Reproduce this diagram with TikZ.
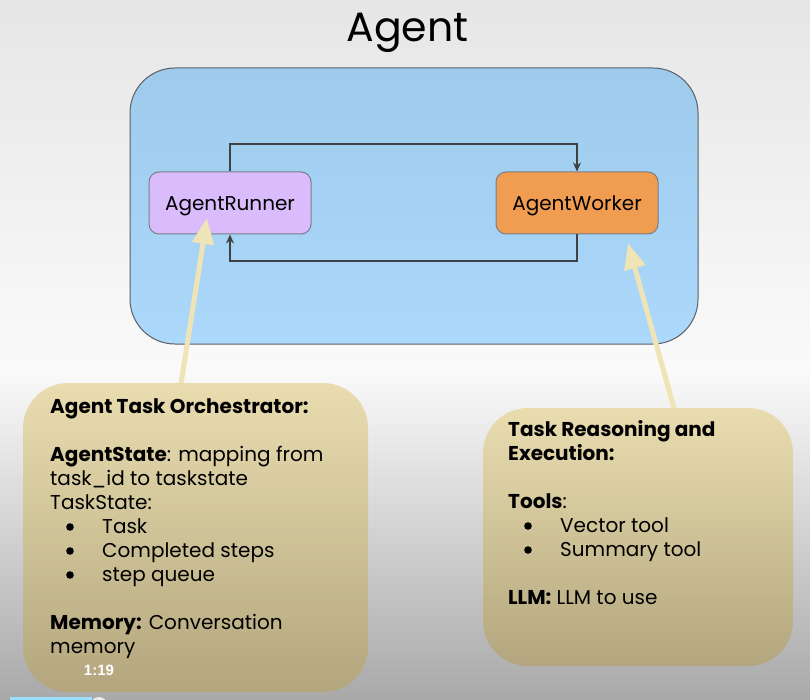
\documentclass[tikz,border=0pt]{standalone}
\usepackage{fontspec}
\setmainfont{Poppins}
\newfontfamily\uifont{Liberation Sans}
\usetikzlibrary{arrows.meta}
\definecolor{bgA}{HTML}{E6E6E6}
\definecolor{bgB}{HTML}{FAFAFA}
\definecolor{bgC}{HTML}{A9A9A9}
\definecolor{blueTop}{HTML}{9ECBEC}
\definecolor{blueBot}{HTML}{ACD8FB}
\definecolor{edge}{HTML}{5A5F66}
\definecolor{lav}{HTML}{DABCFC}
\definecolor{orng}{HTML}{F09D52}
\definecolor{conn}{HTML}{3F4245}
\definecolor{cream}{HTML}{EFE4B6}
\definecolor{tanTop}{HTML}{E9DDB0}
\definecolor{tanBot}{HTML}{B3A67E}
\newcommand{\bulitem}{\hspace*{52pt}}
\begin{document}
\begin{tikzpicture}[x=1pt,y=-1pt,
  agentbox/.style={draw=edge, line width=1pt, rounded corners=45pt, top color=blueTop, bottom color=blueBot},
  compbox/.style={draw=edge!80, line width=1pt, rounded corners=10pt, minimum width=162pt, minimum height=62pt, inner sep=0pt, text height=16pt, text depth=0pt, font=\fontsize{20}{24}\selectfont},
  link/.style={draw=conn, line width=2pt, -{Stealth[length=9pt,width=8pt]}},
  hint/.style={draw=cream, line width=5pt, -{Triangle[length=26pt,width=21pt]}},
  notebox/.style={rounded corners=45pt, top color=tanTop, bottom color=tanBot, inner sep=0pt},
  txt/.style={align=left, inner sep=0pt, font=\fontsize{20}{24}\selectfont},
  dot/.style={fill=black}
]
\useasboundingbox (0,0) rectangle (810,700);
\shade[top color=bgA, bottom color=bgB] (0,0) rectangle (810,370);
\shade[top color=bgB, bottom color=bgC] (0,370) rectangle (810,700);

\node[font=\fontsize{41}{48}\selectfont, inner sep=0pt, anchor=base] (title) at (407.5,42) {Agent};

\node[agentbox, minimum width=568pt, minimum height=276pt] (agent) at (414,206) {};

\node[compbox, fill=lav] (runner) at (230,203) {AgentRunner};
\node[compbox, fill=orng] (worker) at (577,203) {AgentWorker};

\draw[link] (runner.north) -- ++(0,-27) -| (worker.north);
\draw[link] (worker.south) -- ++(0,27) -| (runner.south);

\coordinate (lt) at (180,390);
\coordinate (lh) at (207,218);
\coordinate (rt) at (675,412);
\coordinate (rh) at (628,243);
\draw[hint] (lt) -- (lh);
\draw[hint] (rt) -- (rh);

\node[notebox, minimum width=345pt, minimum height=309pt] (orch) at (195.5,537.5) {};
\node[notebox, minimum width=310pt, minimum height=258pt] (reason) at (638,537) {};

\node[txt, anchor=base west] (orchtxt) at (50,653) {\textbf{Agent Task Orchestrator:}\\[24pt]
\textbf{AgentState}: mapping from\\
task\_id to taskstate\\
TaskState:\\
\bulitem Task\\
\bulitem Completed steps\\
\bulitem step queue\\[24pt]
\textbf{Memory:} Conversation\\
memory};
\foreach \yy in {527,551,575} \fill[dot] (70,\yy) circle (3.8pt);

\node[txt, anchor=base west] (reasontxt) at (508,604) {\textbf{Task Reasoning and}\\
\textbf{Execution:}\\[24pt]
\textbf{Tools}:\\
\bulitem Vector tool\\
\bulitem Summary tool\\[24pt]
\textbf{LLM:} LLM to use};
\foreach \yy in {526,550} \fill[dot] (528,\yy) circle (3.8pt);

\node[text=white, font=\uifont\bfseries\fontsize{15}{15}\selectfont, inner sep=0pt] (time) at (99,670) {1:19};
\fill[blue!30!cyan!40] (10,697) rectangle (92,700);
\fill[white!85!gray] (99,705) circle (8pt);
\end{tikzpicture}
\end{document}
